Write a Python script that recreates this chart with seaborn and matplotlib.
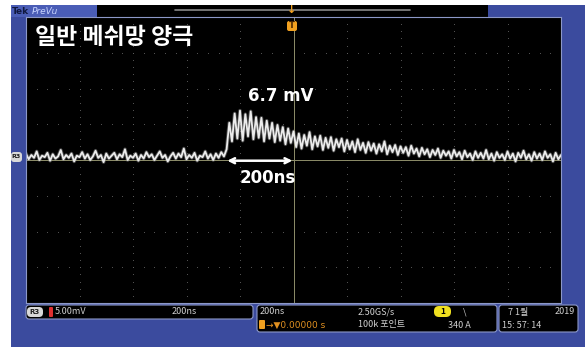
import seaborn as sns
import pandas as pd
import numpy as np
import matplotlib.pyplot as plt
from matplotlib.patches import Rectangle, FancyBboxPatch

# scope settings: 200 ns/div, 5 mV/div, 10 x 8 divisions
t_div = 200
v_div = 5
t_step = 10

# trace, mV, one sample every 10 ns from -1000 ns
pre_pulse = [0.9, 0.1, 0.7, 0.3, 1.2, 0.0, 0.6, 0.4, 1.0, -0.1, 0.8, 0.2, 0.5, 1.4, 0.1, 0.7, 0.3, 0.9, -0.2, 0.6,
             0.4, 1.1, 0.2, 0.8, 0.0, 0.5, 1.3, 0.3, 0.7, -0.3, 0.9, 0.2, 0.6, 1.0, 0.1, 0.8, 0.4, 1.5, 0.0, 0.6,
             0.3, 0.9, -0.1, 0.7, 0.2, 1.1, 0.4, 0.8, 0.0, 0.6, 1.2, 0.3, 0.7, -0.2, 0.5, 1.0, 0.2, 0.9, 0.4, 1.6,
             0.1, 0.7, 0.3, 1.0, -0.1, 0.6, 0.4, 1.2, 0.2, 0.8, 0.0, 0.9, 0.3, 1.1, 0.5]
pulse = [1.5, 5.2, 2.6, 6.5, 3.0, 6.9, 2.7, 6.4, 3.3, 6.8, 2.9, 6.0, 3.1, 5.9, 2.6, 5.5, 3.0, 5.2, 2.5, 4.9,
         2.7, 4.6, 2.2, 4.4, 2.4, 4.0]
tail = [1.8, 3.7, 1.6, 3.5, 2.0, 3.9, 1.5, 3.3, 1.9, 3.4,
        1.4, 3.1, 1.7, 3.2, 1.3, 2.9, 1.8, 3.0, 1.2, 2.8,
        1.5, 2.6, 1.1, 2.9, 1.4, 2.4, 1.0, 2.5, 1.3, 2.3,
        0.9, 2.2, 1.2, 2.6, 0.8, 2.0, 1.1, 2.1, 0.7, 1.9,
        1.0, 1.8, 0.6, 2.0, 0.9, 1.6, 0.5, 1.7, 0.8, 1.5,
        0.4, 1.4, 0.7, 1.6, 0.3, 1.3, 0.6, 1.2, 0.2, 1.4,
        0.5, 1.1, 0.1, 1.3, 0.4, 0.9, 0.0, 1.2, 0.3, 1.0,
        0.2, 1.4, 0.1, 0.9, -0.1, 1.1, 0.3, 0.8, 0.0, 1.2,
        0.2, 0.9, -0.2, 1.0, 0.3, 1.3, 0.1, 0.8, -0.1, 1.1,
        0.2, 0.9, 0.0, 1.2, 0.3, 0.8, -0.2, 1.0, 0.1, 0.7]

volts = pre_pulse + pulse + tail
times = [-1000 + i * t_step for i in range(len(volts))]
df = pd.DataFrame({'t': times, 'mV': volts})

title = '일반 메쉬망 양극'
peak_label = '6.7 mV'
width_label = '200ns'

sns.set_style('dark')
plt.rcParams['font.family'] = ['Noto Sans CJK KR', 'DejaVu Sans']

W, H = 585, 347
fig = plt.figure(figsize=(W / 100, H / 100), dpi=100)
fig.patch.set_facecolor('white')
tr = fig.dpi_scale_trans


def P(x, y):
    return (x / 100, (H - y) / 100)


def box(x0, y0, x1, y1, fc, ec='none', lw=0, r=0, z=1):
    if r:
        p = FancyBboxPatch(P(x0, y1), (x1 - x0) / 100, (y1 - y0) / 100,
                           boxstyle='round,pad=0,rounding_size=%f' % (r / 100),
                           fc=fc, ec=ec, lw=lw, transform=tr, zorder=z)
    else:
        p = Rectangle(P(x0, y1), (x1 - x0) / 100, (y1 - y0) / 100, fc=fc, ec=ec, lw=lw,
                      transform=tr, zorder=z)
    fig.add_artist(p)


def txt(x, y, s, **kw):
    kw.setdefault('zorder', 6)
    fig.text(*P(x, y), s, transform=tr, **kw)


blue = '#3b4b9e'
box(11, 5, W, H, blue, z=0)
box(11, 5, 97, 17, '#4a5db6')
box(97, 5, 488, 17, 'black')
fig.add_artist(plt.Line2D([1.75, 4.10], [(H - 10) / 100] * 2, color='#8a8a8a', lw=1.2, transform=tr))
txt(12, 11, 'Tek', color='#101840', fontsize=6.5, fontweight='bold', va='center', family='DejaVu Sans')
txt(32, 11, 'PreVu', color='#c8d4ff', fontsize=6.5, style='italic', va='center', family='DejaVu Sans')

# screen
ax = fig.add_axes([26 / W, 1 - 303 / H, (561 - 26) / W, (303 - 17) / H])
ax.set_zorder(2)
ax.set_facecolor('black')
ax.set_xlim(-5 * t_div, 5 * t_div)
ax.set_ylim(-4 * v_div, 4 * v_div)
ax.set_xticks([])
ax.set_yticks([])
for s in ax.spines.values():
    s.set_color('#8c98c8')
    s.set_linewidth(0.8)

# dotted graticule
gx = np.arange(-4, 5) * t_div
gy = np.arange(-3, 4) * v_div
mx = np.arange(-1000, 1001, t_div / 5)
my = np.arange(-20, 20.1, v_div / 5)
for x in gx:
    if x != 0:
        ax.scatter(np.full_like(my, x), my, s=0.6, color='#5e5e5e', lw=0)
for y in gy:
    if y != 0:
        ax.scatter(mx, np.full_like(mx, y), s=0.6, color='#5e5e5e', lw=0)
ax.axvline(0, color='#8e8e6a', lw=0.7)
ax.axhline(0, color='#8e8e6a', lw=0.7)

# faint glow under the trace, then the trace itself
sns.lineplot(data=df, x='t', y='mV', ax=ax, color='#9a9a9a', lw=2.6, alpha=0.45, estimator=None, sort=False)
sns.lineplot(data=df, x='t', y='mV', ax=ax, color='#ececec', lw=1.3, estimator=None, sort=False)
ax.set_xlabel('')
ax.set_ylabel('')

ax.annotate('', xy=(-258, -0.1), xytext=(6, -0.1),
            arrowprops=dict(arrowstyle='<->', color='white', lw=1.8, mutation_scale=9))
ax.text(-47, 9.0, peak_label, color='white', fontsize=12, fontweight='bold', ha='center', va='center',
        family='DejaVu Sans')
ax.text(-95, -2.5, width_label, color='white', fontsize=12, fontweight='bold', ha='center', va='center',
        family='DejaVu Sans')

txt(35, 38, title, color='white', fontsize=16.5, fontweight='bold', va='center')

# trigger marker
txt(292, 10, '↓', color='#f0a020', fontsize=8, fontweight='bold', ha='center', va='center', family='DejaVu Sans')
box(287, 21, 297, 31, '#f0a020', r=2, z=5)
txt(292, 26, 'T', color='#402000', fontsize=6, fontweight='bold', ha='center', va='center', family='DejaVu Sans')

# reference marker
box(11, 152, 22, 162, '#d8d8d8', r=3, z=5)
txt(16.5, 157, 'R3', color='#202020', fontsize=4.5, fontweight='bold', ha='center', va='center', family='DejaVu Sans')

# status bar
sc = '#d0d0d0'
box(26, 305, 253, 319, 'black', ec='#8c98c8', lw=0.8, r=3)
box(257, 305, 497, 332, 'black', ec='#8c98c8', lw=0.8, r=3)
box(499, 305, 578, 332, 'black', ec='#8c98c8', lw=0.8, r=3)
box(27, 307, 43, 317, '#d8d8d8', r=4, z=5)
txt(35, 312, 'R3', color='#202020', fontsize=5, fontweight='bold', ha='center', va='center', family='DejaVu Sans')
box(49, 307, 53, 317, '#e03030', r=1, z=5)
txt(55, 312, '5.00mV', color=sc, fontsize=6.5, va='center')
txt(172, 312, '200ns', color=sc, fontsize=6.5, va='center')
txt(260, 312, '200ns', color=sc, fontsize=6.5, va='center')
box(259, 320, 265, 329, '#f0a020', r=1, z=5)
txt(266, 325, '→▼0.00000 s', color='#e09020', fontsize=6.5, va='center', family=['DejaVu Sans'])
txt(358, 312, '2.50GS/s', color=sc, fontsize=6.5, va='center')
txt(358, 325, '100k 포인트', color=sc, fontsize=6.5, va='center')
box(434, 306, 451, 317, '#f0e020', r=5, z=5)
txt(442.5, 311.5, '1', color='black', fontsize=6, fontweight='bold', ha='center', va='center')
txt(463, 312, '\\', color=sc, fontsize=6.5, va='center')
txt(448, 325, '340 A', color=sc, fontsize=6.5, va='center')
txt(508, 312, '7 1월', color=sc, fontsize=6.5, va='center')
txt(575, 312, '2019', color=sc, fontsize=6.5, va='center', ha='right')
txt(502, 325, '15: 57: 14', color=sc, fontsize=6.5, va='center')

fig.savefig('out.png', dpi=100, facecolor='white')
